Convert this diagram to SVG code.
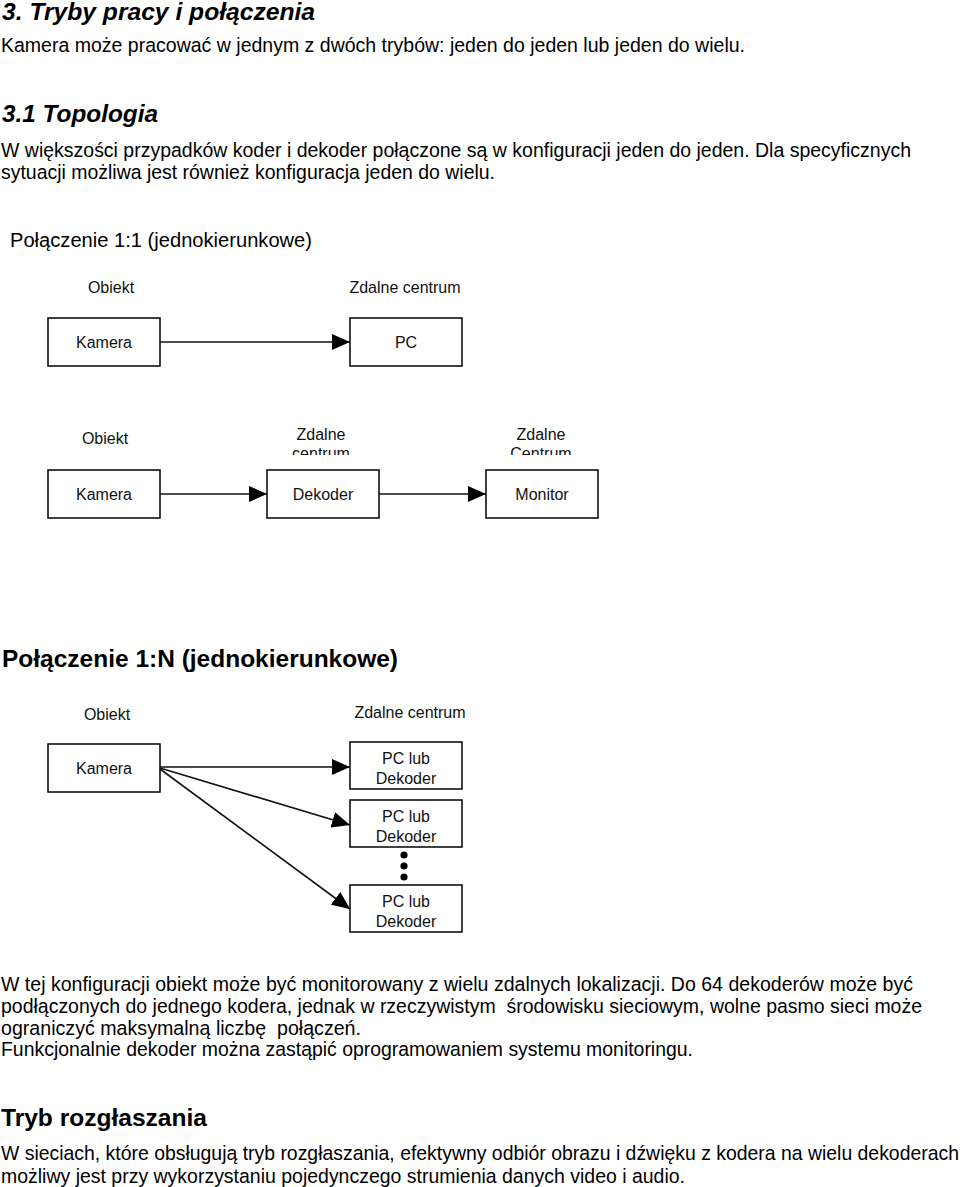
<svg xmlns="http://www.w3.org/2000/svg" width="960" height="1187" viewBox="0 0 960 1187">
<style>
text{font-family:"Liberation Sans",Arial,sans-serif;fill:#000}
.h1{font-size:24px;font-weight:bold;font-style:italic}
.h2{font-size:24.5px;font-weight:bold}
.h3{font-size:20px}
.body{font-size:19.3px;white-space:pre}
.lbl{font-size:16px;text-anchor:middle;fill:#111}
.box{fill:#fff;stroke:#111;stroke-width:1.6}
.conn{stroke:#111;stroke-width:1.6;fill:none}
</style>
<defs>
<marker id="arr" markerUnits="userSpaceOnUse" markerWidth="18" markerHeight="16" refX="18" refY="8" orient="auto" viewBox="0 0 18 16">
<path d="M0,0 L18,8 L0,16 z" fill="#000"/>
</marker>
<clipPath id="clipRow2"><rect x="0" y="400" width="960" height="55"/></clipPath>
</defs>

<g id="text-top">
<text class="h1" x="2" y="20" textLength="313" lengthAdjust="spacingAndGlyphs">3. Tryby pracy i połączenia</text>
<text class="body" x="1" y="52" textLength="744" lengthAdjust="spacingAndGlyphs">Kamera może pracować w jednym z dwóch trybów: jeden do jeden lub jeden do wielu.</text>
<text class="h1" x="2" y="122" textLength="156" lengthAdjust="spacingAndGlyphs">3.1 Topologia</text>
<text class="body" x="1" y="157" textLength="910" lengthAdjust="spacingAndGlyphs">W większości przypadków koder i dekoder połączone są w konfiguracji jeden do jeden. Dla specyficznych</text>
<text class="body" x="1" y="179" textLength="494" lengthAdjust="spacingAndGlyphs">sytuacji możliwa jest również konfiguracja jeden do wielu.</text>
<text class="h3" x="10" y="247" textLength="302" lengthAdjust="spacingAndGlyphs">Połączenie 1:1 (jednokierunkowe)</text>
</g>

<!-- Diagram 1:1 -->
<g id="lbl-obiekt-1"><text class="lbl" x="111" y="293">Obiekt</text></g>
<g id="lbl-zdalne-1"><text class="lbl" x="405" y="293">Zdalne centrum</text></g>
<g id="node-kamera-1"><rect class="box" x="48" y="318" width="112" height="48"/><text class="lbl" x="104" y="348">Kamera</text></g>
<g id="node-pc-1"><rect class="box" x="350" y="318" width="112" height="48"/><text class="lbl" x="406" y="348">PC</text></g>

<!-- Diagram 1:1 with decoder -->
<g id="lbl-obiekt-2"><text class="lbl" x="105" y="444">Obiekt</text></g>
<g id="lbl-zdalne-2" clip-path="url(#clipRow2)"><text class="lbl" x="321" y="440">Zdalne</text><text class="lbl" x="321" y="459">centrum</text></g>
<g id="lbl-zdalne-3" clip-path="url(#clipRow2)"><text class="lbl" x="541" y="440">Zdalne</text><text class="lbl" x="541" y="459">Centrum</text></g>
<g id="node-kamera-2"><rect class="box" x="48" y="470" width="112" height="48"/><text class="lbl" x="104" y="500">Kamera</text></g>
<g id="node-dekoder-2"><rect class="box" x="267" y="470" width="112" height="48"/><text class="lbl" x="323" y="500">Dekoder</text></g>
<g id="node-monitor-2"><rect class="box" x="486" y="470" width="112" height="48"/><text class="lbl" x="542" y="500">Monitor</text></g>

<g id="text-mid">
<text class="h2" x="2" y="667" textLength="396" lengthAdjust="spacingAndGlyphs">Połączenie 1:N (jednokierunkowe)</text>
</g>

<!-- Diagram 1:N -->
<g id="lbl-obiekt-3"><text class="lbl" x="107" y="720">Obiekt</text></g>
<g id="lbl-zdalne-4"><text class="lbl" x="410" y="718">Zdalne centrum</text></g>
<g id="node-kamera-3"><rect class="box" x="48" y="744" width="112" height="48"/><text class="lbl" x="104" y="774">Kamera</text></g>
<g id="node-pc-a"><rect class="box" x="350" y="742" width="112" height="47"/><text class="lbl" x="406" y="764">PC lub</text><text class="lbl" x="406" y="784">Dekoder</text></g>
<g id="node-pc-b"><rect class="box" x="350" y="800" width="112" height="47"/><text class="lbl" x="406" y="822">PC lub</text><text class="lbl" x="406" y="842">Dekoder</text></g>
<g id="ellipsis"><circle cx="404" cy="855" r="3.6" fill="#000"/><circle cx="404" cy="866" r="3.6" fill="#000"/><circle cx="404" cy="877" r="3.6" fill="#000"/></g>
<g id="node-pc-c"><rect class="box" x="350" y="885" width="112" height="47"/><text class="lbl" x="406" y="907">PC lub</text><text class="lbl" x="406" y="927">Dekoder</text></g>

<g id="connectors">
<line class="conn" x1="160" y1="342" x2="350" y2="342" marker-end="url(#arr)"/>
<line class="conn" x1="160" y1="494" x2="267" y2="494" marker-end="url(#arr)"/>
<line class="conn" x1="379" y1="494" x2="486" y2="494" marker-end="url(#arr)"/>
<line class="conn" x1="160" y1="767" x2="350" y2="767" marker-end="url(#arr)"/>
<line class="conn" x1="160" y1="768" x2="350" y2="825" marker-end="url(#arr)"/>
<line class="conn" x1="160" y1="769" x2="350" y2="909" marker-end="url(#arr)"/>
</g>

<g id="text-bottom">
<text class="body" x="1" y="991" textLength="912" lengthAdjust="spacingAndGlyphs">W tej konfiguracji obiekt może być monitorowany z wielu zdalnych lokalizacji. Do 64 dekoderów może być</text>
<text class="body" x="1" y="1013" textLength="921" lengthAdjust="spacingAndGlyphs">podłączonych do jednego kodera, jednak w rzeczywistym  środowisku sieciowym, wolne pasmo sieci może</text>
<text class="body" x="1" y="1035" textLength="360" lengthAdjust="spacingAndGlyphs">ograniczyć maksymalną liczbę  połączeń.</text>
<text class="body" x="1" y="1056" textLength="692" lengthAdjust="spacingAndGlyphs">Funkcjonalnie dekoder można zastąpić oprogramowaniem systemu monitoringu.</text>
<text class="h2" x="1" y="1126" textLength="206" lengthAdjust="spacingAndGlyphs">Tryb rozgłaszania</text>
<text class="body" x="1" y="1160" textLength="958" lengthAdjust="spacingAndGlyphs">W sieciach, które obsługują tryb rozgłaszania, efektywny odbiór obrazu i dźwięku z kodera na wielu dekoderach</text>
<text class="body" x="1" y="1183" textLength="684" lengthAdjust="spacingAndGlyphs">możliwy jest przy wykorzystaniu pojedynczego strumienia danych video i audio.</text>
</g>
</svg>
